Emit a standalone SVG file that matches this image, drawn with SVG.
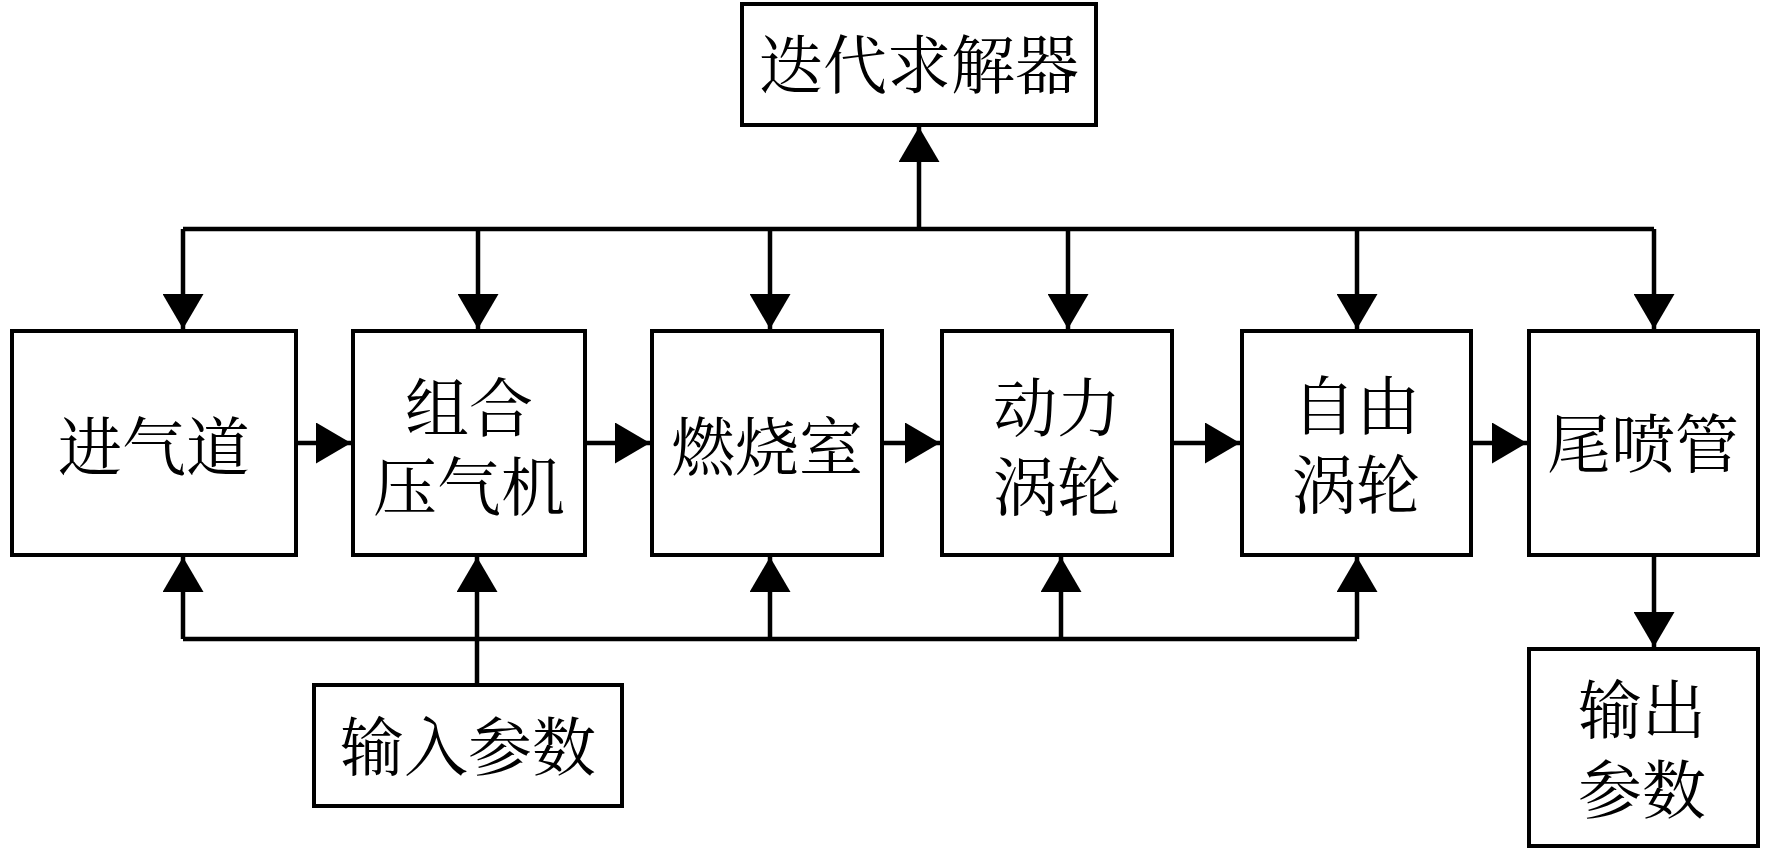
<svg xmlns="http://www.w3.org/2000/svg" width="1772" height="851" viewBox="0 0 1772 851">
<style>
.box{fill:#fff;stroke:#000;stroke-width:4}
.lbl{font-family:"Noto Serif CJK SC","Noto Sans CJK SC",serif;font-size:64px;fill:#000;text-anchor:middle;dominant-baseline:central}
.ln{fill:none;stroke:#000;stroke-width:4.5}
.arr{marker-end:url(#ah)}
</style>
<defs>
<marker id="ah" viewBox="0 0 35 41" refX="35" refY="20.5" markerWidth="35" markerHeight="41" markerUnits="userSpaceOnUse" orient="auto">
<path d="M0,0 L35,20.5 L0,41 Z" fill="#000"/>
</marker>
</defs>
<rect width="1772" height="851" fill="#fff"/>
<g id="connectors">
<path class="ln" d="M183,229 H1654"/>
<path class="ln arr" d="M919,229 V127"/>
<path class="ln arr" d="M183,229 V329"/>
<path class="ln arr" d="M478,229 V329"/>
<path class="ln arr" d="M770,229 V329"/>
<path class="ln arr" d="M1068,229 V329"/>
<path class="ln arr" d="M1357,229 V329"/>
<path class="ln arr" d="M1654,229 V329"/>
<path class="ln arr" d="M298,443 H351"/>
<path class="ln arr" d="M587,443 H650"/>
<path class="ln arr" d="M884,443 H940"/>
<path class="ln arr" d="M1174,443 H1240"/>
<path class="ln arr" d="M1473,443 H1527"/>
<path class="ln" d="M183,639 H1357"/>
<path class="ln arr" d="M183,639 V557"/>
<path class="ln arr" d="M477,683 V557"/>
<path class="ln arr" d="M770,639 V557"/>
<path class="ln arr" d="M1061,639 V557"/>
<path class="ln arr" d="M1357,639 V557"/>
<path class="ln arr" d="M1654,557 V647"/>
</g>
<g id="solver"><rect class="box" x="742" y="4" width="354" height="121"/><text class="lbl" x="919" y="60">迭代求解器</text></g>
<g id="inlet"><rect class="box" x="12" y="331" width="284" height="224"/><text class="lbl" x="154" y="442">进气道</text></g>
<g id="compressor"><rect class="box" x="353" y="331" width="232" height="224"/><text class="lbl" x="469" y="403">组合</text><text class="lbl" x="469" y="482">压气机</text></g>
<g id="combustor"><rect class="box" x="652" y="331" width="230" height="224"/><text class="lbl" x="767" y="442">燃烧室</text></g>
<g id="powerturbine"><rect class="box" x="942" y="331" width="230" height="224"/><text class="lbl" x="1057" y="403">动力</text><text class="lbl" x="1057" y="482">涡轮</text></g>
<g id="freeturbine"><rect class="box" x="1242" y="331" width="229" height="224"/><text class="lbl" x="1356" y="401">自由</text><text class="lbl" x="1356" y="480">涡轮</text></g>
<g id="nozzle"><rect class="box" x="1529" y="331" width="229" height="224"/><text class="lbl" x="1643" y="439">尾喷管</text></g>
<g id="input"><rect class="box" x="314" y="685" width="308" height="121"/><text class="lbl" x="468" y="742">输入参数</text></g>
<g id="output"><rect class="box" x="1529" y="649" width="229" height="197"/><text class="lbl" x="1642" y="705">输出</text><text class="lbl" x="1642" y="785">参数</text></g>
</svg>
